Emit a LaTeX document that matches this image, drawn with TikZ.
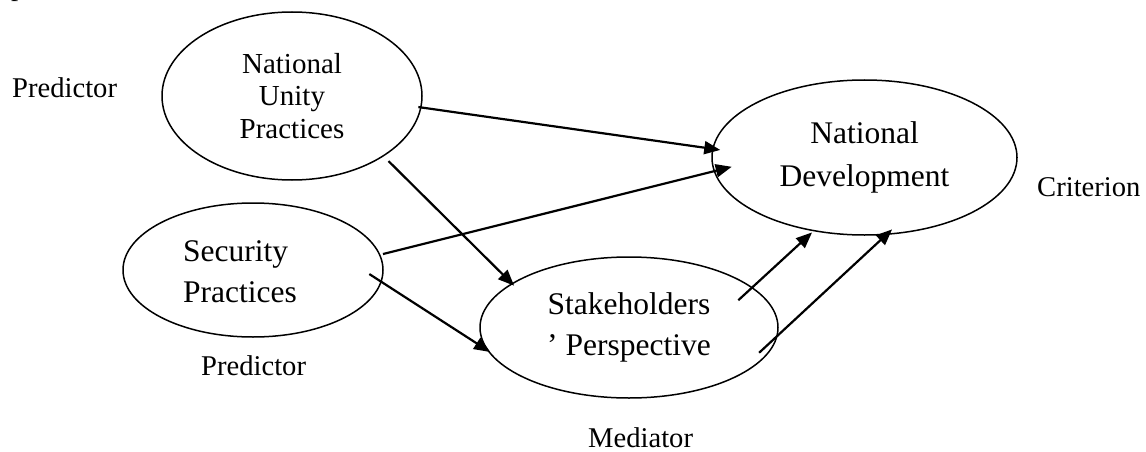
\documentclass[tikz,border=0pt]{standalone}
\usepackage{fontspec}
\setmainfont{Liberation Serif}
\usetikzlibrary{shapes.geometric,arrows.meta,calc}
\tikzset{
  ell/.style={draw, ellipse, line width=1.5pt, inner sep=0pt, outer sep=0pt, align=center},
  arr/.style={line width=2.2pt, -{Triangle[length=16pt,width=13pt]}},
  lab/.style={font=\fontsize{28.6}{34}\selectfont, inner sep=0pt, anchor=base west},
}
\begin{document}
\begin{tikzpicture}[x=1pt,y=-1pt]
\useasboundingbox (0,0) rectangle (1146,452);
% ellipses
\node[ell, minimum width=260pt, minimum height=168pt,
      font=\fontsize{29}{32.5}\selectfont] (nup) at (292,96) {National\\Unity\\Practices};
\node[ell, minimum width=305pt, minimum height=155pt,
      font=\fontsize{31.5}{43.3}\selectfont] (nd) at (864.5,157.5) {National\\Development};
\node[ell, minimum width=260pt, minimum height=134pt] (sp) at (253,270) {};
\node[inner sep=0pt, align=left, anchor=west,
      font=\fontsize{31.5}{41}\selectfont] (spt) at ($(sp.center)+(-70,2)$) {Security\\Practices};
\node[ell, minimum width=298pt, minimum height=141pt,
      font=\fontsize{31.5}{41}\selectfont] (shp) at (629,327.5) {Stakeholders\\’ Perspective};
% labels
\node[lab] (ptop) at (11,-4) {p};
\node[lab] (pred1) at (12,97) {Predictor};
\node[lab] (pred2) at (201,375) {Predictor};
\node[lab] (crit) at (1037,196.7) {Criterion};
\node[lab] (med) at (588,447) {Mediator};
% connectors
\draw[arr] ($(nup.center)!0.981!(nup.-5.89)$) -- ($(nd.center)!0.951!(nd.177.42)$);
\draw[arr] ($(sp.center)!1.028!(sp.7.94)$) -- ($(nd.center)!0.879!(nd.184.53)$);
\draw[arr] ($(nup.center)!1.073!(nup.-34.79)$) -- ($(shp.center)!0.973!(shp.160.91)$);
\draw[arr] ($(sp.center)!0.897!(sp.-2.96)$) -- ($(shp.center)!0.995!(shp.190.0)$);
\draw[arr] ($(shp.center)!0.829!(shp.14.16)$) -- ($(nd.center)!1.026!(nd.235.27)$);
\draw[arr] ($(shp.center)!0.944!(shp.-11.10)$) -- ($(nd.center)!0.945!(nd.-69.80)$);
\end{tikzpicture}
\end{document}
